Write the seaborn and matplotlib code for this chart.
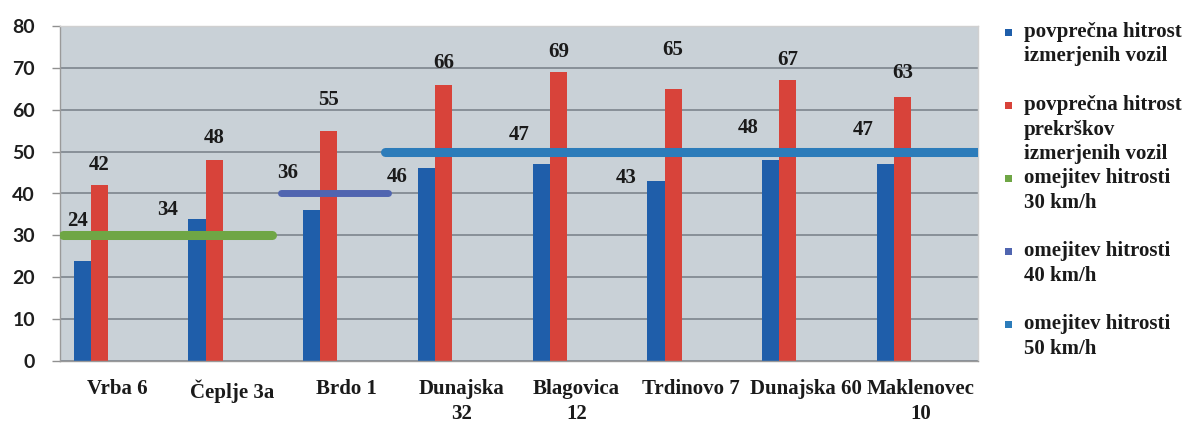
import matplotlib
matplotlib.use("Agg")
import matplotlib.pyplot as plt
import seaborn as sns
import pandas as pd
from matplotlib.patches import Rectangle

# ---- data ----
categories = ["Vrba 6", "Čeplje 3a", "Brdo 1", "Dunajska\n32", "Blagovica\n12",
              "Trdinovo 7", "Dunajska 60", "Maklenovec\n10"]
avg_measured = [24, 34, 36, 46, 47, 43, 48, 47]
avg_violations = [42, 48, 55, 66, 69, 65, 67, 63]
series_names = ["povprečna hitrost\nizmerjenih vozil",
                "povprečna hitrost\nprekrškov\nizmerjenih vozil"]
limit_values = [30, 40, 50]
limit_names = ["omejitev hitrosti\n30 km/h", "omejitev hitrosti\n40 km/h",
               "omejitev hitrosti\n50 km/h"]
limit_first_cat = [0, 2, 3]
limit_last_cat = [1, 2, 7]
y_ticks = [0, 10, 20, 30, 40, 50, 60, 70, 80]

# ---- styles ----
c_blue = "#1f5eaa"
c_red = "#d8433a"
limit_colors = ["#6fa645", "#5065b0", "#2c7cba"]
limit_widths = [6.5, 5.0, 6.5]
limit_pad = [(0.03, -0.15), (-0.07, -0.14), (-0.17, 0.0)]
blue_lbl_dx = [-5, -29, -24, -29, -22, -30, -22, -22]
blue_lbl_dy = [40, 9, 37, -9, 29, 3, 32, 34]
red_lbl_dy = [20, 22, 31, 22, 20, 39, 20, 24]

sns.set_theme(style="white")
plt.rcParams["font.family"] = ["DejaVu Sans"]
serif = "Liberation Serif"

df = pd.DataFrame({
    "lokacija": categories * 2,
    "hitrost": avg_measured + avg_violations,
    "serija": [series_names[0]] * len(categories) + [series_names[1]] * len(categories),
})

fig = plt.figure(figsize=(11.9, 4.23), dpi=100)
ax = fig.add_axes([60 / 1190, 62 / 423, 918 / 1190, 335 / 423])
ax.set_facecolor("#c9d1d7")

sns.barplot(data=df, x="lokacija", y="hitrost", hue="serija",
            palette=[c_blue, c_red], width=0.30, saturation=1,
            legend=False, ax=ax, zorder=2)
for p in ax.patches:
    p.set_x(p.get_x() - 0.232)
    p.set_linewidth(0)

# limit lines
for v, f, l, c, w, (lp, rp) in zip(limit_values, limit_first_cat, limit_last_cat,
                                   limit_colors, limit_widths, limit_pad):
    ax.plot([f - 0.5 + lp, l + 0.5 + rp], [v, v], color=c, lw=w,
            solid_capstyle="round", zorder=3, clip_on=True)

# data labels
lbl_font = dict(fontfamily=serif, fontweight="bold", fontsize=15, color="#1a1a1a")
for i, bar in enumerate(ax.containers[0]):
    ax.annotate(f"{avg_measured[i]}", (bar.get_x() + bar.get_width() / 2, bar.get_height()),
                xytext=(blue_lbl_dx[i], blue_lbl_dy[i]), textcoords="offset pixels",
                ha="center", va="center", zorder=5, **lbl_font)
for i, bar in enumerate(ax.containers[1]):
    ax.annotate(f"{avg_violations[i]}", (bar.get_x() + bar.get_width() / 2, bar.get_height()),
                xytext=(0, red_lbl_dy[i]), textcoords="offset pixels",
                ha="center", va="center", zorder=5, **lbl_font)

# axes
ax.set_xlim(-0.5, len(categories) - 0.5)
ax.set_ylim(0, 80)
ax.set_yticks(y_ticks)
ax.set_yticklabels([str(t) for t in y_ticks], fontfamily="Lato", fontweight="bold",
                   fontsize=14, color="#1e1e1e")
ax.set_xticks(range(len(categories)))
ax.set_xticklabels(categories, fontfamily=serif, fontweight="bold", fontsize=15,
                   color="#1a1a1a", linespacing=1.3)
ax.set_xticks([i - 0.5 for i in range(len(categories) + 1)], minor=True)
ax.tick_params(axis="x", which="major", length=0, pad=13)
ax.tick_params(axis="x", which="minor", length=6, color="#909090", width=1)
ax.tick_params(axis="y", length=6, color="#909090", width=1, pad=12, left=True)
ax.set_xlabel("")
ax.set_ylabel("")
ax.grid(axis="y", color="#7d858d", lw=1.2, zorder=1)
ax.set_axisbelow(True)
for s in ["left", "bottom"]:
    ax.spines[s].set_color("#9a9a9a")
    ax.spines[s].set_linewidth(1.0)
for s in ["top", "right"]:
    ax.spines[s].set_color("#d0d0d0")
    ax.spines[s].set_linewidth(1.0)

# legend (Excel style, equal slots)
legend_names = series_names + limit_names
legend_colors = [c_blue, c_red] + limit_colors
W, H = 1190, 423
for i, (name, col) in enumerate(zip(legend_names, legend_colors)):
    y_center = 33 + 73 * i
    fig.add_artist(Rectangle((1005 / W, 1 - (y_center + 3) / H), 7 / W, 7 / H,
                             transform=fig.transFigure, color=col, lw=0))
    fig.text(1024 / W, 1 - (y_center - 11) / H, name, ha="left", va="top",
             fontfamily=serif, fontweight="bold", fontsize=15, color="#1a1a1a",
             linespacing=1.3)

fig.savefig("out.png", dpi=100, facecolor="white")
